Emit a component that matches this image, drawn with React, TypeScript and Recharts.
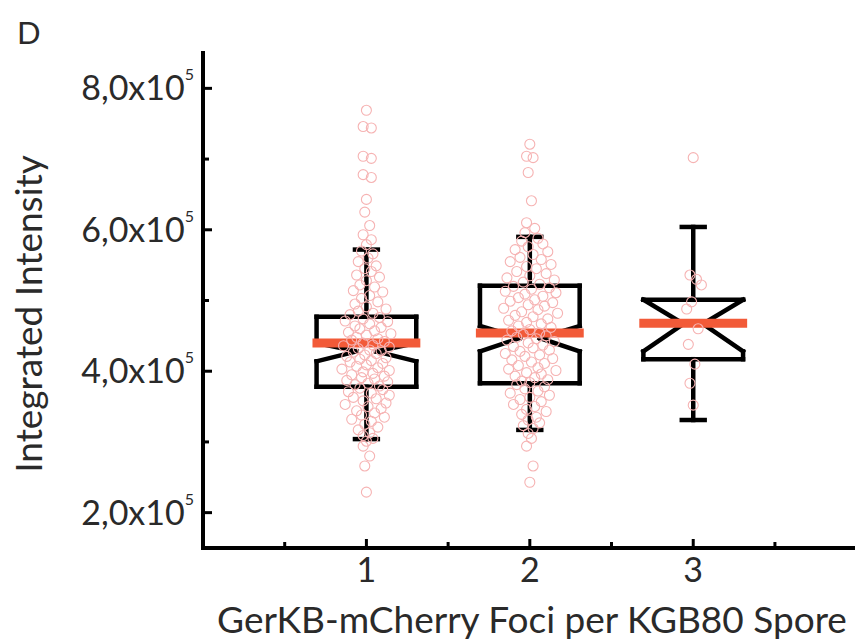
import { ScatterChart, Scatter, XAxis, YAxis, ReferenceLine } from "recharts";

// all intensities are in units of 10^5
const groups = [1, 2, 3];
const q1 = [3.78, 3.83, 4.17];
const q3 = [4.77, 5.21, 5.01];
const median = [4.28, 4.47, 4.67];
const mean = [4.4, 4.54, 4.68];
const notchLo = [4.14, 4.28, 4.28];
const notchHi = [4.4, 4.64, 5.01];
const whiskerLo = [3.04, 3.17, 3.31];
const whiskerHi = [5.72, 5.9, 6.04];

const xTicks = [0.5, 1, 1.5, 2, 2.5, 3, 3.5];
const yTicks = [2, 3, 4, 5, 6, 7, 8];
const yTickLabels: Record<number, string> = { 2: "2,0x10", 4: "4,0x10", 6: "6,0x10", 8: "8,0x10" };

const g1Points: [number, number][] = [
  [1.0, 7.69], [0.98, 7.46], [1.03, 7.44], [0.98, 7.04], [1.03, 7.01], [0.98, 6.78], [1.03, 6.74],
  [1.0, 6.43], [0.99, 6.25], [1.02, 6.06], [0.98, 5.93], [1.03, 5.86], [1.0, 5.79],
  [0.97, 5.7], [1.04, 5.66], [1.01, 5.6], [0.95, 5.55], [1.06, 5.49], [0.99, 5.45], [1.03, 5.41],
  [0.94, 5.36], [1.08, 5.33], [1.0, 5.28], [0.96, 5.22], [1.05, 5.19], [0.92, 5.14], [1.1, 5.12],
  [1.02, 5.07], [0.97, 5.03], [1.07, 4.98], [0.93, 4.95], [1.0, 4.91], [1.12, 4.88], [0.95, 4.85],
  [1.04, 4.82], [0.9, 4.8],
  [1.08, 4.76], [0.98, 4.74], [0.87, 4.71], [1.13, 4.7], [1.02, 4.67], [0.93, 4.64], [1.09, 4.62],
  [0.96, 4.6], [1.05, 4.57], [0.89, 4.55], [1.15, 4.53], [1.0, 4.51], [0.94, 4.48], [1.07, 4.46],
  [0.91, 4.44], [1.11, 4.42], [0.98, 4.4], [1.04, 4.37], [0.86, 4.36], [1.14, 4.34], [0.95, 4.32],
  [1.02, 4.3], [1.09, 4.29],
  [0.92, 4.27], [1.06, 4.25], [0.99, 4.23], [0.88, 4.21], [1.12, 4.19], [0.96, 4.17], [1.03, 4.15],
  [0.9, 4.13], [1.1, 4.11], [1.0, 4.09], [0.94, 4.07], [1.07, 4.05], [0.85, 4.03], [1.14, 4.01],
  [0.98, 3.99], [1.04, 3.97], [0.91, 3.95], [1.11, 3.93], [0.97, 3.91], [1.05, 3.89], [0.88, 3.87],
  [1.13, 3.85], [1.01, 3.83], [0.93, 3.81], [1.08, 3.79],
  [0.96, 3.76], [1.1, 3.74], [0.89, 3.71], [1.03, 3.69], [1.14, 3.66], [0.92, 3.63], [1.06, 3.61],
  [0.98, 3.58], [1.12, 3.55], [0.87, 3.53], [1.01, 3.5], [1.09, 3.47], [0.94, 3.44], [1.05, 3.41],
  [0.97, 3.38], [1.11, 3.35], [0.91, 3.32], [1.03, 3.29], [0.99, 3.25], [1.07, 3.21], [0.95, 3.17],
  [1.02, 3.13], [0.98, 3.09], [1.04, 3.05], [1.0, 3.01],
  [0.98, 2.94], [1.02, 2.8], [0.99, 2.66], [1.0, 2.29],
];

const g2Points: [number, number][] = [
  [2.0, 7.21], [1.98, 7.04], [2.02, 7.02], [1.99, 6.81], [2.01, 6.41], [1.98, 6.1], [2.03, 6.02], [1.97, 5.96],
  [2.05, 5.88], [1.95, 5.84], [2.08, 5.8], [1.99, 5.76], [1.91, 5.72], [2.11, 5.69], [2.02, 5.65],
  [1.94, 5.61], [2.07, 5.58], [1.88, 5.55], [2.13, 5.51], [1.98, 5.48], [2.04, 5.45], [1.92, 5.41],
  [2.1, 5.38], [2.0, 5.35], [1.86, 5.32], [2.15, 5.29], [1.96, 5.26], [2.06, 5.23],
  [1.9, 5.2], [2.12, 5.18], [2.01, 5.16], [1.85, 5.13], [2.16, 5.11], [1.97, 5.09], [2.08, 5.06],
  [1.93, 5.04], [2.03, 5.01], [1.88, 4.99], [2.14, 4.97], [1.99, 4.94], [2.09, 4.92], [1.84, 4.89],
  [2.05, 4.87], [1.95, 4.84], [2.17, 4.82], [1.91, 4.79], [2.02, 4.77], [2.11, 4.74], [1.87, 4.72],
  [1.98, 4.69], [2.07, 4.67], [1.93, 4.64], [2.13, 4.62], [2.0, 4.59], [1.89, 4.57], [2.06, 4.54],
  [1.96, 4.52], [2.1, 4.5], [1.92, 4.48],
  [2.04, 4.46], [1.86, 4.44], [2.15, 4.42], [1.99, 4.4], [2.08, 4.37], [1.9, 4.35], [2.02, 4.33],
  [2.12, 4.3], [1.94, 4.28], [1.85, 4.25], [2.06, 4.23], [1.97, 4.21], [2.14, 4.18], [1.89, 4.16],
  [2.01, 4.13], [2.09, 4.11], [1.93, 4.08], [2.05, 4.05], [1.87, 4.03], [2.16, 4.01], [1.98, 3.98],
  [2.07, 3.96], [1.91, 3.93], [2.03, 3.91], [2.11, 3.88], [1.95, 3.86], [2.0, 3.84],
  [1.92, 3.81], [2.09, 3.78], [1.97, 3.75], [2.05, 3.72], [1.88, 3.69], [2.12, 3.66], [2.0, 3.63],
  [1.94, 3.6], [2.07, 3.57], [1.9, 3.53], [2.03, 3.5], [1.98, 3.46], [2.1, 3.43], [1.95, 3.39],
  [2.04, 3.35], [1.99, 3.31], [2.06, 3.27], [1.96, 3.23], [2.02, 3.19],
  [1.99, 3.12], [2.01, 3.05], [1.98, 2.94], [2.02, 2.66], [2.0, 2.43],
];

const g3Points: [number, number][] = [
  [3.0, 7.02], [2.98, 5.36], [3.02, 5.3], [3.05, 5.22], [2.99, 4.98], [2.96, 4.88],
  [3.03, 4.6], [2.97, 4.38], [3.01, 4.1], [2.98, 3.83], [3.0, 3.52],
];

const BOX_HALF = 0.305;
const NOTCH_HALF = 0.06;
const CAP_HALF = 0.07;
const MEAN_HALF = 0.33;

const FONT = "Lato, 'Open Sans', sans-serif";
const TEXT = "#2a2a2a";
const POINT = "#f6b3b3";
const RED = "#f25a38";

const toXY = (pts: [number, number][]) => pts.map(([x, y]) => ({ x, y }));

type Seg = [[number, number], [number, number]];

function boxSegments(i: number): Seg[] {
  const c = groups[i];
  const segs: Seg[] = [
    [[c - BOX_HALF, q3[i]], [c + BOX_HALF, q3[i]]],
    [[c - BOX_HALF, q1[i]], [c + BOX_HALF, q1[i]]],
    [[c, q3[i]], [c, whiskerHi[i]]],
    [[c - CAP_HALF, whiskerHi[i]], [c + CAP_HALF, whiskerHi[i]]],
    [[c, q1[i]], [c, whiskerLo[i]]],
    [[c - CAP_HALF, whiskerLo[i]], [c + CAP_HALF, whiskerLo[i]]],
  ];
  for (const s of [-1, 1]) {
    const edge = c + s * BOX_HALF;
    const nar = c + s * NOTCH_HALF;
    segs.push([[edge, q3[i]], [edge, notchHi[i]]]);
    segs.push([[edge, notchHi[i]], [nar, median[i]]]);
    segs.push([[nar, median[i]], [edge, notchLo[i]]]);
    segs.push([[edge, notchLo[i]], [edge, q1[i]]]);
  }
  return segs;
}

function Ring(props: any) {
  const { cx, cy } = props;
  if (cx == null || cy == null) return <g />;
  return <circle cx={cx} cy={cy} r={5} fill="none" stroke={POINT} strokeWidth={1.1} />;
}

function XTick(props: any) {
  const { x, y, payload } = props;
  const v = payload.value;
  const major = Number.isInteger(v);
  return (
    <g>
      <line x1={x} x2={x} y1={y - 2} y2={y - (major ? 9 : 6)} stroke="#000" strokeWidth={3} />
      {major && (
        <text x={x} y={y + 34} textAnchor="middle" fontFamily={FONT} fontSize={34} fill={TEXT}>
          {v}
        </text>
      )}
    </g>
  );
}

function YTick(props: any) {
  const { x, y, payload } = props;
  const v = payload.value;
  const label = yTickLabels[v];
  return (
    <g>
      <line x1={x + 2} x2={x + (label ? 9 : 6)} y1={y} y2={y} stroke="#000" strokeWidth={3} />
      {label && (
        <text x={x - 9} y={y + 12} textAnchor="end" fontFamily={FONT} fontSize={34} fill={TEXT}>
          {label}
          <tspan dy={-20} fontSize={16}>5</tspan>
        </text>
      )}
    </g>
  );
}

export default function App() {
  return (
    <div style={{ position: "absolute", left: 0, top: 0, width: 855, height: 644, background: "#fff" }}>
      <ScatterChart width={855} height={644} margin={{ top: 53, right: 0, bottom: 0, left: 0 }}>
        <XAxis
          type="number"
          dataKey="x"
          domain={[0, 3.99]}
          ticks={xTicks}
          interval={0}
          allowDataOverflow
          height={96}
          tickSize={0}
          tickMargin={0}
          tickLine={false}
          axisLine={{ stroke: "#000", strokeWidth: 4, strokeLinecap: "square" }}
          tick={<XTick />}
        />
        <YAxis
          type="number"
          dataKey="y"
          domain={[1.5, 8.5]}
          ticks={yTicks}
          interval={0}
          allowDataOverflow
          width={203}
          tickSize={0}
          tickMargin={0}
          tickLine={false}
          axisLine={{ stroke: "#000", strokeWidth: 4, strokeLinecap: "square" }}
          tick={<YTick />}
        />
        <Scatter data={toXY(g1Points)} shape={<Ring />} isAnimationActive={false} />
        <Scatter data={toXY(g2Points)} shape={<Ring />} isAnimationActive={false} />
        <Scatter data={toXY(g3Points)} shape={<Ring />} isAnimationActive={false} />
        {groups.map((_, i) =>
          boxSegments(i).map((s, j) => (
            <ReferenceLine
              key={`b${i}-${j}`}
              segment={[{ x: s[0][0], y: s[0][1] }, { x: s[1][0], y: s[1][1] }]}
              stroke="#000"
              strokeWidth={4.5}
              strokeLinecap="square"
              ifOverflow="visible"
            />
          ))
        )}
        {groups.map((c, i) => (
          <ReferenceLine
            key={`m${i}`}
            segment={[{ x: c - MEAN_HALF, y: mean[i] }, { x: c + MEAN_HALF, y: mean[i] }]}
            stroke={RED}
            strokeWidth={9}
            ifOverflow="visible"
          />
        ))}
      </ScatterChart>
      <svg
        width={855}
        height={644}
        style={{ position: "absolute", left: 0, top: 0, pointerEvents: "none" }}
      >
        <text x={17} y={44} fontFamily={FONT} fontSize={31} fill={TEXT}>D</text>
        <text
          x={42}
          y={314}
          transform="rotate(-90, 42, 314)"
          textAnchor="middle"
          fontFamily={FONT}
          fontSize={37}
          fill={TEXT}
        >
          Integrated Intensity
        </text>
        <text x={532} y={633} textAnchor="middle" fontFamily={FONT} fontSize={37} fill={TEXT}>
          GerKB-mCherry Foci per KGB80 Spore
        </text>
      </svg>
    </div>
  );
}
